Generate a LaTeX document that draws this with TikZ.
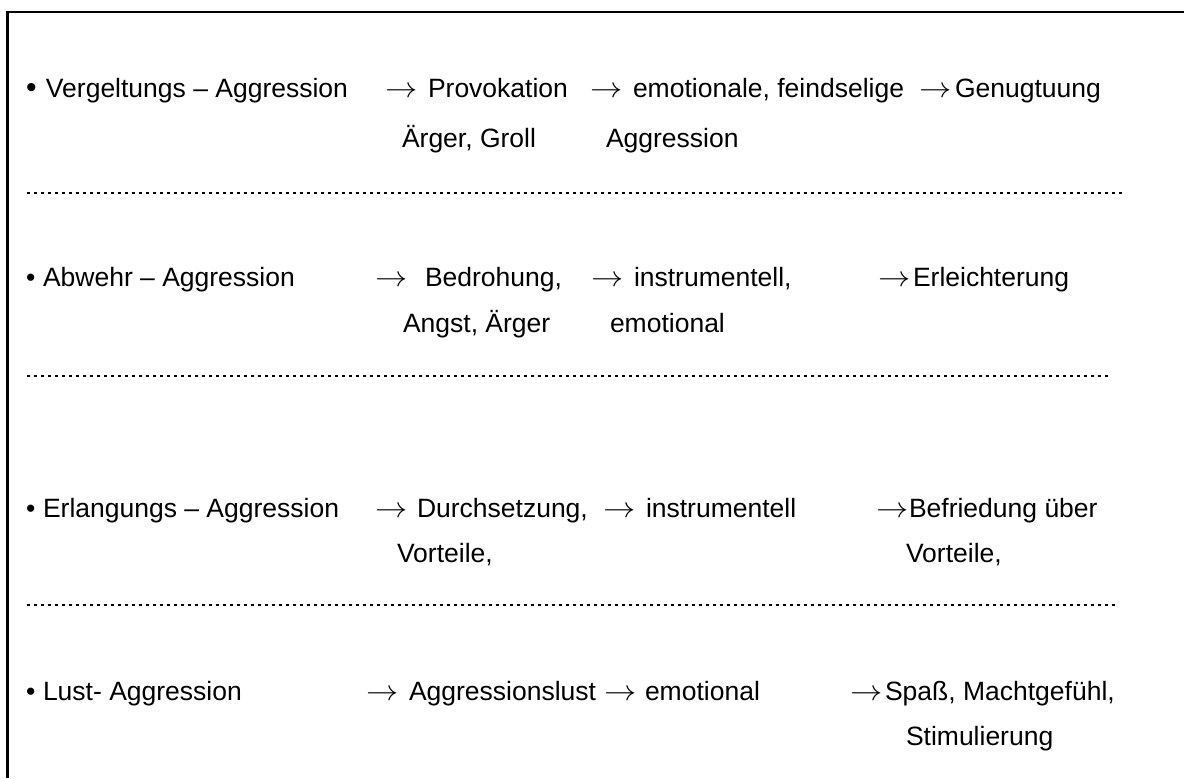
\documentclass[tikz,border=0pt]{standalone}
\usepackage{fontspec}
\setmainfont{Liberation Sans}
\newcommand\txtsize{\fontsize{13.25pt}{16pt}\selectfont}
\tikzset{
  txt/.style={anchor=base west, inner sep=0pt, outer sep=0pt, font=\txtsize},
  sepline/.style={line width=1.3pt, dash pattern=on 1.3pt off 2.2pt},
  frameline/.style={line width=1.25pt}
}
\newcommand\arr{\scalebox{1.12}[1]{$\rightarrow$}}
\begin{document}
\begin{tikzpicture}[x=0.5pt,y=-0.5pt]
\useasboundingbox (0,0) rectangle (1184,778);
% frame (left and top edges)
\draw[frameline] (7.5,778) -- (7.5,12) -- (1184,12);
% row 1
\node[txt] (b1)   at (26,97)  {\fontsize{15pt}{16pt}\selectfont •};
\node[txt] (r1a)  at (46,97)  {Vergeltungs – Aggression};
\node[txt] (r1x1) at (385,97) {\arr};
\node[txt] (r1b)  at (428,97) {Provokation};
\node[txt] (r1x2) at (590,97) {\arr};
\node[txt] (r1c)  at (633,97) {emotionale, feindselige};
\node[txt] (r1x3) at (919,97) {\arr};
\node[txt] (r1d)  at (955,97) {Genugtuung};
\node[txt] (r1b2) at (402,147) {Ärger, Groll};
\node[txt] (r1c2) at (606,147) {Aggression};
\draw[sepline] (27,193) -- (1122,193);
% row 2
\node[txt] (b2)   at (26,286)  {•};
\node[txt] (r2a)  at (43,286)  {Abwehr – Aggression};
\node[txt] (r2x1) at (375,286) {\arr};
\node[txt] (r2b)  at (425,286) {Bedrohung,};
\node[txt] (r2x2) at (591,286) {\arr};
\node[txt] (r2c)  at (634,286) {instrumentell,};
\node[txt] (r2x3) at (878,286) {\arr};
\node[txt] (r2d)  at (913,286) {Erleichterung};
\node[txt] (r2b2) at (403,332) {Angst, Ärger};
\node[txt] (r2c2) at (610,332) {emotional};
\draw[sepline] (27,376) -- (1110,376);
% row 3
\node[txt] (b3)   at (26,517)  {•};
\node[txt] (r3a)  at (43,517)  {Erlangungs – Aggression};
\node[txt] (r3x1) at (375,517) {\arr};
\node[txt] (r3b)  at (417,517) {Durchsetzung,};
\node[txt] (r3x2) at (603,517) {\arr};
\node[txt] (r3c)  at (646,517) {instrumentell};
\node[txt] (r3x3) at (876,517) {\arr};
\node[txt] (r3d)  at (909,517) {Befriedung über};
\node[txt] (r3b2) at (397,562) {Vorteile,};
\node[txt] (r3d2) at (906,562) {Vorteile,};
\draw[sepline] (27,605) -- (1116,605);
% row 4
\node[txt] (b4)   at (26,700)  {•};
\node[txt] (r4a)  at (43,700)  {Lust- Aggression};
\node[txt] (r4x1) at (366,700) {\arr};
\node[txt] (r4b)  at (409,700) {Aggressionslust};
\node[txt] (r4x2) at (604,700) {\arr};
\node[txt] (r4c)  at (645,700) {emotional};
\node[txt] (r4x3) at (850,700) {\arr};
\node[txt] (r4d)  at (885,700) {Spaß, Machtgefühl,};
\node[txt] (r4d2) at (906,745) {Stimulierung};
\end{tikzpicture}
\end{document}
